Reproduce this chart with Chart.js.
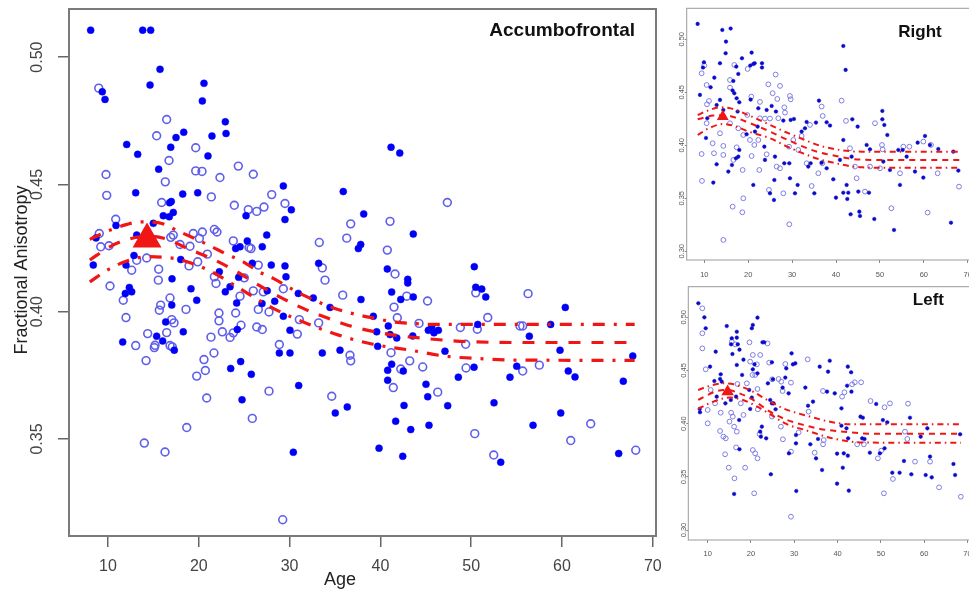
<!DOCTYPE html>
<html><head><meta charset="utf-8">
<script src="https://cdn.jsdelivr.net/npm/chart.js@4.4.1/dist/chart.umd.min.js"></script>
<style>
html,body{margin:0;padding:0;background:#fff;overflow:hidden;width:969px;height:590px;position:relative;}
.p{position:absolute;}
canvas{display:block;}
</style></head><body>
<div class="p" style="left:0;top:0;width:668px;height:590px"><canvas id="cMain" width="668" height="590"></canvas></div>
<div class="p" style="left:672px;top:0;width:310px;height:285px"><canvas id="cRight" width="310" height="285"></canvas></div>
<div class="p" style="left:672px;top:285px;width:310px;height:305px"><canvas id="cLeft" width="310" height="305"></canvas></div>
<script>
// ---------- tick labels ----------
const ageTicks = [10, 20, 30, 40, 50, 60, 70];
const faTicksMain = [0.35, 0.40, 0.45, 0.50];
const faTicksSmall = [0.30, 0.35, 0.40, 0.45, 0.50];
const panelTitles = ["Accumbofrontal", "Right", "Left"];
const axisTitles = ["Age", "Fractional Anisotropy"];

// ---------- Accumbofrontal (main) ----------
const mainFilled = [[8.09,0.5106],[13.82,0.5106],[14.70,0.5106],[15.73,0.4952],[14.63,0.4890],[20.57,0.4897],[20.39,0.4828],[9.37,0.4864],[9.67,0.4834],[12.06,0.4657],[13.27,0.4618],[22.92,0.4746],[23.00,0.4700],[18.34,0.4705],[17.49,0.4684],[16.91,0.4646],[21.45,0.4690],[21.01,0.4612],[15.58,0.4560],[13.05,0.4467],[18.23,0.4462],[19.88,0.4467],[29.31,0.4494],[30.19,0.4400],[29.49,0.4362],[16.09,0.4377],[16.75,0.4373],[17.19,0.4390],[16.79,0.4428],[16.97,0.4433],[14.99,0.4347],[10.88,0.4339],[8.68,0.4290],[13.16,0.4301],[25.20,0.4377],[25.34,0.4278],[27.48,0.4301],[26.99,0.4255],[24.06,0.4248],[24.54,0.4255],[12.86,0.4221],[11.98,0.4183],[8.38,0.4183],[18.01,0.4205],[17.05,0.4129],[22.26,0.4157],[24.39,0.4135],[25.89,0.4190],[27.98,0.4183],[29.49,0.4180],[29.60,0.4137],[33.20,0.4190],[19.14,0.4090],[23.44,0.4098],[22.92,0.4078],[11.91,0.4072],[12.35,0.4095],[12.61,0.4078],[27.54,0.4082],[30.96,0.4072],[32.61,0.4054],[41.17,0.4646],[42.13,0.4623],[35.91,0.4472],[38.16,0.4384],[43.62,0.4305],[37.57,0.4248],[37.83,0.4264],[40.76,0.4168],[43.01,0.4127],[43.01,0.4113],[50.34,0.4177],[50.50,0.4096],[51.16,0.4089],[51.60,0.4058],[37.86,0.4048],[41.24,0.4077],[43.62,0.4058],[42.24,0.4048],[60.36,0.4017],[39.22,0.3982],[40.87,0.3944],[39.59,0.3921],[41.06,0.3910],[41.80,0.3897],[43.56,0.3905],[45.28,0.3927],[45.65,0.3940],[45.90,0.3917],[46.38,0.3927],[50.72,0.3950],[56.40,0.3904],[58.75,0.3950],[39.70,0.3864],[47.11,0.3845],[59.78,0.3849],[35.55,0.3849],[67.79,0.3826],[41.24,0.3794],[40.80,0.3770],[42.52,0.3767],[50.31,0.3782],[55.01,0.3786],[60.69,0.3767],[61.43,0.3744],[48.58,0.3743],[54.27,0.3743],[40.80,0.3731],[45.02,0.3715],[45.21,0.3666],[35.03,0.3602],[36.35,0.3626],[42.60,0.3632],[47.41,0.3631],[52.51,0.3642],[66.75,0.3727],[41.68,0.3570],[43.34,0.3537],[45.35,0.3554],[56.81,0.3554],[59.86,0.3602],[39.85,0.3464],[42.46,0.3432],[53.25,0.3409],[66.24,0.3443],[34.45,0.4017],[17.02,0.4026],[19.77,0.4045],[24.17,0.4034],[16.35,0.3960],[15.36,0.3904],[18.29,0.3921],[11.62,0.3881],[16.02,0.3885],[17.30,0.3849],[24.24,0.3930],[23.51,0.3777],[24.61,0.3804],[25.78,0.3754],[24.76,0.3654],[31.00,0.3710],[30.41,0.3448],[26.96,0.4032],[28.36,0.4041],[29.31,0.3982],[30.04,0.3927],[28.87,0.3838],[30.04,0.3838],[33.60,0.3838]];
const mainOpen = [[8.98,0.4878],[16.46,0.4755],[15.36,0.4691],[19.66,0.4644],[16.72,0.4594],[19.66,0.4553],[20.35,0.4551],[9.78,0.4539],[22.33,0.4527],[24.35,0.4572],[26.00,0.4540],[16.31,0.4510],[9.86,0.4457],[21.38,0.4451],[15.91,0.4429],[23.91,0.4418],[25.45,0.4401],[26.38,0.4394],[27.18,0.4411],[28.03,0.4460],[29.49,0.4425],[10.85,0.4363],[9.04,0.4307],[9.20,0.4255],[10.11,0.4259],[19.39,0.4307],[20.39,0.4313],[20.06,0.4288],[21.71,0.4323],[22.00,0.4313],[17.19,0.4301],[16.91,0.4292],[17.93,0.4264],[19.03,0.4257],[23.80,0.4278],[25.53,0.4252],[25.75,0.4248],[33.27,0.4272],[14.26,0.4211],[13.16,0.4202],[20.94,0.4226],[19.88,0.4196],[18.92,0.4180],[26.55,0.4183],[12.61,0.4163],[15.58,0.4167],[15.54,0.4124],[21.71,0.4137],[21.89,0.4111],[25.01,0.4133],[33.60,0.4172],[33.90,0.4124],[10.22,0.4101],[26.00,0.4082],[27.10,0.4078],[29.31,0.4090],[24.54,0.4061],[16.83,0.4054],[47.37,0.4429],[36.73,0.4345],[41.06,0.4355],[36.29,0.4289],[40.76,0.4242],[41.61,0.4148],[50.50,0.4074],[56.26,0.4071],[35.85,0.4065],[42.90,0.4061],[45.19,0.4042],[41.50,0.4018],[41.86,0.3976],[44.25,0.3954],[48.80,0.3938],[49.39,0.3872],[51.82,0.3977],[50.67,0.3931],[55.37,0.3944],[55.67,0.3944],[41.17,0.3839],[36.65,0.3829],[36.73,0.3807],[43.23,0.3807],[42.24,0.3775],[44.66,0.3783],[49.43,0.3779],[55.67,0.3767],[57.50,0.3790],[41.42,0.3702],[46.31,0.3684],[34.64,0.3668],[50.39,0.3521],[63.16,0.3560],[60.96,0.3494],[52.48,0.3437],[68.12,0.3456],[11.68,0.4045],[11.98,0.3977],[15.80,0.4026],[15.65,0.4006],[18.59,0.4009],[22.22,0.3995],[22.22,0.3964],[24.06,0.3995],[17.02,0.3969],[17.27,0.3956],[14.37,0.3914],[16.46,0.3918],[13.05,0.3867],[15.18,0.3868],[15.10,0.3859],[16.83,0.3867],[17.08,0.3862],[14.19,0.3808],[21.34,0.3900],[22.59,0.3921],[23.44,0.3899],[23.80,0.3917],[24.65,0.3947],[21.67,0.3838],[20.57,0.3812],[20.72,0.3769],[19.77,0.3747],[20.87,0.3661],[27.73,0.3688],[25.89,0.3581],[18.67,0.3545],[14.00,0.3484],[16.28,0.3449],[26.38,0.3940],[26.99,0.3930],[26.55,0.4009],[27.73,0.3999],[30.85,0.3912],[31.07,0.3969],[28.87,0.3871],[33.20,0.3956],[29.24,0.3183]];
const mainFit = [[8,0.4203],[10.2,0.4255],[12,0.4282],[14.3,0.4297],[16.5,0.4285],[18.7,0.4249],[21.4,0.4209],[24.2,0.4157],[26.6,0.4104],[28.9,0.4058],[31.5,0.4013],[34.1,0.3976],[36.8,0.3943],[39.4,0.3921],[42.2,0.3905],[44.9,0.3895],[47.5,0.3887],[50,0.3882],[55,0.3879],[68,0.3879]];
const mainUpper = [[8,0.4284],[10.2,0.4320],[12,0.4342],[13.5,0.4353],[15.5,0.4350],[17.9,0.4314],[21.05,0.4262],[23.1,0.4225],[24.9,0.4196],[26.6,0.4157],[28.2,0.4131],[30.0,0.4094],[31.7,0.4062],[33.7,0.4030],[35.6,0.4006],[37.6,0.3987],[39.4,0.3974],[41.4,0.3960],[43.5,0.3954],[45.8,0.3950],[50,0.3950],[68,0.3950]];
const mainLower = [[8,0.4117],[9.9,0.4163],[12,0.4198],[14.3,0.4216],[17.9,0.4205],[21.4,0.4157],[24.5,0.4091],[28.2,0.4013],[31.9,0.3954],[35.4,0.3908],[39.2,0.3872],[43.3,0.3849],[47,0.3826],[51.3,0.3815],[55,0.3810],[68,0.3809]];
const mainPeak = [[14.3,0.4285]];

// ---------- Right ----------
const rightFilled = [[8.48,0.5145],[14.10,0.5088],[16.00,0.5101],[14.94,0.4978],[14.86,0.4868],[13.57,0.4774],[9.92,0.4783],[9.70,0.4733],[9.01,0.4475],[12.28,0.4638],[11.44,0.4547],[20.78,0.4874],[18.58,0.4821],[17.29,0.4742],[17.74,0.4673],[16.61,0.4607],[16.45,0.4516],[16.83,0.4491],[17.37,0.4443],[20.48,0.4752],[21.16,0.4767],[21.47,0.4774],[23.14,0.4774],[23.14,0.4733],[20.55,0.4431],[17.97,0.4406],[17.59,0.4318],[22.30,0.4349],[24.20,0.4333],[25.34,0.4371],[26.32,0.4318],[28.00,0.4233],[29.67,0.4239],[30.42,0.4248],[33.31,0.4220],[35.44,0.4214],[36.12,0.4421],[37.87,0.4217],[38.63,0.4186],[41.66,0.4937],[42.19,0.4711],[43.71,0.4245],[44.93,0.4176],[50.55,0.4324],[50.55,0.4245],[51.00,0.4192],[51.69,0.4097],[54.19,0.3956],[55.18,0.3956],[58.60,0.4025],[60.27,0.4088],[61.40,0.4003],[66.72,0.3940],[67.86,0.3761],[59.89,0.3695],[66.19,0.3270],[53.21,0.3201],[48.72,0.3305],[45.31,0.3374],[45.46,0.3333],[43.33,0.3349],[42.57,0.3494],[41.66,0.3553],[42.80,0.3553],[39.99,0.3506],[45.08,0.3563],[47.51,0.3553],[42.42,0.3626],[39.38,0.3679],[35.06,0.3547],[36.73,0.3836],[33.69,0.3799],[34.22,0.3830],[37.87,0.3783],[15.47,0.3752],[12.05,0.3648],[12.81,0.3821],[10.38,0.4069],[10.68,0.4255],[16.30,0.3814],[17.21,0.3877],[17.74,0.3893],[17.97,0.3956],[19.64,0.4104],[21.16,0.3626],[21.54,0.4129],[22.15,0.4176],[23.67,0.3987],[23.82,0.3862],[26.10,0.3893],[25.95,0.3673],[24.96,0.3547],[25.87,0.3484],[28.22,0.3830],[29.51,0.3689],[30.65,0.3547],[31.26,0.3626],[29.36,0.3830],[32.17,0.4129],[32.93,0.4160],[41.66,0.4050],[43.56,0.3893],[40.90,0.3862],[46.98,0.4003],[47.74,0.3962],[50.78,0.3846],[56.09,0.3893],[52.29,0.3767],[57.99,0.3752],[54.57,0.3626],[63.30,0.3965],[13.57,0.4428],[12.81,0.4380],[14.33,0.4333]];
const rightOpen = [[9.39,0.4679],[10.00,0.4752],[10.53,0.4569],[11.06,0.4418],[10.61,0.4387],[15.85,0.4544],[16.83,0.4758],[15.85,0.4616],[19.87,0.4720],[20.71,0.4459],[19.79,0.4286],[22.68,0.4409],[24.58,0.4575],[25.57,0.4491],[26.25,0.4667],[27.24,0.4560],[26.63,0.4437],[28.22,0.4358],[29.51,0.4465],[29.67,0.4434],[28.38,0.4308],[22.68,0.4255],[23.82,0.4252],[24.96,0.4252],[26.86,0.4255],[34.07,0.4192],[36.73,0.4365],[36.96,0.4277],[41.28,0.4421],[42.27,0.4230],[48.88,0.4208],[50.47,0.4003],[50.62,0.3962],[56.70,0.3987],[55.33,0.3987],[61.63,0.4003],[68.01,0.3610],[63.15,0.3736],[60.87,0.3365],[52.60,0.3406],[44.70,0.3689],[46.60,0.3563],[34.45,0.3616],[35.97,0.3736],[33.31,0.3830],[36.88,0.3830],[14.33,0.3107],[18.66,0.3368],[16.45,0.3421],[18.88,0.3500],[9.47,0.3664],[9.39,0.3918],[12.20,0.3925],[11.90,0.4019],[10.53,0.4208],[13.57,0.4113],[14.33,0.3994],[14.33,0.3909],[16.61,0.3862],[18.73,0.3767],[17.37,0.3981],[18.88,0.4097],[20.78,0.3899],[21.39,0.4003],[22.53,0.3767],[24.20,0.3915],[26.48,0.3799],[27.24,0.3783],[28.00,0.3547],[24.73,0.3579],[29.36,0.3255],[31.41,0.3956],[29.29,0.3987],[15.85,0.4208],[17.74,0.4160],[20.40,0.4050],[22.30,0.4050],[30.27,0.4050],[32.17,0.4088],[43.18,0.3972],[44.32,0.3799],[47.74,0.3799],[50.02,0.3783],[59.89,0.4035],[54.57,0.3736]];
const rightFit = [[8.5,0.4245],[10,0.4262],[12,0.4280],[14.3,0.4286],[17,0.4262],[20,0.4215],[25,0.4129],[28.5,0.4060],[32.5,0.3987],[36,0.3935],[40,0.3899],[43,0.3875],[46,0.3864],[50,0.3862],[68.3,0.3862]];
const rightUpper = [[8.5,0.4286],[11,0.4330],[13.6,0.4358],[16,0.4348],[20,0.4285],[25,0.4192],[28.5,0.4125],[32.5,0.4057],[36,0.4000],[40,0.3962],[43,0.3945],[46,0.3940],[68.3,0.3940]];
const rightLower = [[8.5,0.4097],[11,0.4160],[14.3,0.4200],[17,0.4180],[20,0.4130],[25,0.4066],[28.5,0.3995],[32.5,0.3924],[36,0.3870],[40,0.3830],[43,0.3805],[46,0.3792],[50,0.3789],[68.3,0.3789]];
const rightPeak = [[14.2,0.4270]];

// ---------- Left ----------
const leftFilled = [[7.84,0.5132],[9.23,0.5000],[9.54,0.4897],[10.54,0.4536],[11.85,0.4677],[13.01,0.4464],[12.86,0.4420],[14.40,0.4918],[15.56,0.4803],[15.41,0.4746],[16.72,0.4865],[16.72,0.4809],[16.95,0.4746],[15.71,0.4655],[17.34,0.4696],[16.72,0.4552],[18.26,0.4602],[17.95,0.4458],[20.19,0.4897],[20.42,0.4928],[21.50,0.4997],[21.50,0.4473],[22.66,0.4765],[23.05,0.4765],[20.81,0.4558],[20.42,0.4511],[24.83,0.4577],[25.06,0.4417],[23.90,0.4379],[24.44,0.4223],[25.21,0.4191],[25.68,0.4135],[27.30,0.4339],[27.92,0.4433],[28.15,0.4520],[28.69,0.4285],[29.38,0.4661],[29.69,0.4558],[30.23,0.4567],[23.51,0.3862],[22.12,0.3925],[22.51,0.3972],[24.59,0.3524],[30.39,0.3893],[30.39,0.3815],[30.46,0.3367],[28.76,0.3721],[32.55,0.4339],[33.17,0.4169],[34.32,0.4207],[33.71,0.3806],[35.02,0.3674],[35.48,0.3856],[36.41,0.3564],[35.87,0.4536],[38.19,0.4592],[37.80,0.4489],[37.57,0.4301],[39.34,0.4285],[39.88,0.3436],[39.88,0.3718],[40.89,0.4144],[40.89,0.3981],[41.20,0.3586],[41.43,0.3721],[42.36,0.3699],[42.05,0.3956],[42.20,0.4357],[42.36,0.4536],[43.13,0.4483],[43.20,0.4301],[42.59,0.3370],[42.43,0.3862],[45.29,0.4066],[45.83,0.4056],[45.68,0.3862],[46.22,0.3856],[47.45,0.3727],[48.92,0.4185],[50.46,0.4034],[51.47,0.4013],[52.63,0.3539],[54.32,0.3539],[55.33,0.3649],[57.03,0.3524],[60.35,0.3517],[61.35,0.3690],[60.73,0.3956],[59.19,0.3878],[56.72,0.4056],[49.77,0.3721],[50.85,0.3768],[66.76,0.3621],[67.14,0.3517],[68.30,0.3900],[61.74,0.3495],[8.15,0.4138],[8.22,0.4107],[11.54,0.4401],[13.24,0.4395],[12.08,0.4254],[14.09,0.4191],[15.33,0.4223],[16.56,0.4254],[17.26,0.4034],[17.34,0.3759],[16.10,0.3339],[19.58,0.4317],[20.19,0.4245],[19.81,0.4138],[22.28,0.3878],[24.83,0.4191]];
const leftOpen = [[8.76,0.5085],[8.76,0.4850],[8.76,0.4708],[9.54,0.4511],[10.00,0.4129],[10.00,0.4003],[10.69,0.4317],[11.70,0.4191],[12.86,0.3931],[13.01,0.4103],[13.63,0.3878],[14.02,0.3712],[14.17,0.3862],[14.86,0.3586],[15.02,0.4019],[15.41,0.4103],[15.79,0.4066],[16.10,0.3972],[16.18,0.3486],[16.56,0.3777],[16.72,0.3925],[15.56,0.4771],[16.33,0.4746],[16.87,0.4373],[17.64,0.4191],[18.26,0.4082],[18.65,0.3586],[19.03,0.4379],[19.65,0.4765],[19.81,0.4583],[20.35,0.4458],[20.42,0.4646],[20.97,0.4458],[21.35,0.4558],[21.50,0.4326],[21.58,0.4135],[20.42,0.3752],[20.97,0.3721],[21.50,0.3674],[20.73,0.3345],[21.97,0.3903],[22.12,0.4646],[23.82,0.4755],[24.21,0.4574],[24.90,0.4417],[24.83,0.4066],[26.37,0.4420],[26.99,0.4395],[27.30,0.4307],[26.91,0.3972],[27.37,0.3853],[27.92,0.4561],[29.23,0.4386],[29.23,0.3737],[29.23,0.3125],[31.00,0.3918],[33.09,0.4605],[33.32,0.4113],[34.71,0.3727],[36.64,0.4307],[36.80,0.3846],[36.64,0.3806],[41.04,0.4254],[41.58,0.4295],[43.36,0.4370],[43.98,0.4389],[45.44,0.4389],[44.52,0.3806],[46.06,0.3806],[47.61,0.4213],[49.31,0.3674],[50.08,0.3746],[50.69,0.3345],[50.85,0.4154],[52.09,0.4191],[52.78,0.3480],[56.26,0.4188],[55.56,0.3925],[56.10,0.3856],[57.88,0.3643],[61.35,0.3643],[63.44,0.3401],[68.46,0.3313]];
const leftFit = [[7.8,0.4223],[10,0.4270],[12,0.4305],[14.6,0.4317],[17,0.4290],[20,0.4235],[24.4,0.4113],[28,0.4040],[32.2,0.3987],[36,0.3950],[41.4,0.3925],[46,0.3908],[50,0.3905],[68.5,0.3905]];
const leftUpper = [[7.8,0.4317],[10,0.4350],[13.6,0.4379],[16,0.4370],[20,0.4310],[24.4,0.4207],[28,0.4135],[33.7,0.4066],[38,0.4020],[43,0.3994],[68.5,0.3994]];
const leftLower = [[7.8,0.4138],[10,0.4185],[15,0.4245],[18,0.4225],[21,0.4170],[24.4,0.4090],[28,0.4000],[33.7,0.3925],[38,0.3870],[43,0.3831],[47,0.3822],[68.5,0.3821]];
const leftPeak = [[14.6,0.4300]];

// ---------- drawing ----------
const FONT = "'Liberation Sans', Arial, Helvetica, sans-serif";
const RED = 'rgb(240,22,22)';
const pts = a => a.map(([x, y]) => ({x, y}));

const decor = {
  id: 'decor',
  afterDatasetsDraw(chart, args, o) {
    const a = chart.chartArea, ctx = chart.ctx;
    ctx.save();
    ctx.strokeStyle = o.frameColor; ctx.lineWidth = o.frameWidth;
    ctx.strokeRect(a.left, a.top, a.right - a.left, a.bottom - a.top);
    ctx.restore();
  },
  afterDraw(chart, args, o) {
    const ctx = chart.ctx;
    (o.texts || []).forEach(t => {
      ctx.save();
      ctx.font = t.font; ctx.fillStyle = t.color || '#111';
      ctx.textAlign = t.align || 'left'; ctx.textBaseline = 'alphabetic';
      ctx.translate(t.x, t.y);
      if (t.rot) ctx.rotate(t.rot);
      ctx.fillText(t.text, 0, 0);
      ctx.restore();
    });
  }
};

function zeroPad(s) { s.paddingTop = 0; s.paddingBottom = 0; s.paddingLeft = 0; s.paddingRight = 0; }

function build(id, o) {
  const lineBase = {showLine: true, borderColor: RED, borderWidth: o.lw, pointRadius: 0, pointHitRadius: 0,
                    cubicInterpolationMode: 'monotone', fill: false, borderCapStyle: 'butt'};
  const datasets = [
    {data: pts(o.peak), pointStyle: 'triangle', pointRadius: o.triR, backgroundColor: RED, borderColor: RED, borderWidth: 0},
    Object.assign({data: pts(o.upper), borderDash: o.dotDash}, lineBase),
    Object.assign({data: pts(o.fit), borderDash: o.dash}, lineBase),
    Object.assign({data: pts(o.lower), borderDash: o.dotDash}, lineBase),
    {data: pts(o.filled), pointStyle: 'circle', pointRadius: o.fr, backgroundColor: o.fillColor, borderColor: o.fillColor, borderWidth: 0.5},
    {data: pts(o.open), pointStyle: 'circle', pointRadius: o.or, backgroundColor: 'rgba(255,255,255,0)', borderColor: o.openColor, borderWidth: o.ow}
  ];
  return new Chart(document.getElementById(id), {
    type: 'scatter',
    data: {datasets},
    plugins: [decor],
    options: {
      responsive: false, animation: false, devicePixelRatio: 1,
      layout: {autoPadding: false, padding: {top: o.padTop, right: o.padRight, left: 0, bottom: 0}},
      plugins: {legend: {display: false}, tooltip: {enabled: false}, decor: o.decor},
      scales: {
        x: {
          type: 'linear', position: 'bottom', min: o.xmin, max: o.xmax,
          afterBuildTicks: s => { s.ticks = ageTicks.map(v => ({value: v})); },
          afterFit: s => { s.height = o.xh; zeroPad(s); },
          grid: {display: true, drawOnChartArea: false, drawTicks: true, tickLength: o.tl, color: o.tickColor, lineWidth: o.tw},
          border: {display: false},
          ticks: {autoSkip: false, maxRotation: 0, minRotation: 0, padding: o.xpad, color: o.labColor,
                  font: {family: FONT, size: o.tfs}, callback: v => String(v)}
        },
        y: {
          type: 'linear', position: 'left', min: o.ymin, max: o.ymax,
          afterBuildTicks: s => { s.ticks = o.yticks.map(v => ({value: v})); },
          afterFit: s => { s.width = o.yw; zeroPad(s); },
          grid: {display: true, drawOnChartArea: false, drawTicks: true, tickLength: o.ytl, color: o.tickColor, lineWidth: o.tw},
          border: {display: false},
          ticks: {autoSkip: false, minRotation: 90, maxRotation: 90, crossAlign: 'center', padding: o.ypad, color: o.labColor,
                  font: {family: FONT, size: o.tfs}, callback: v => v.toFixed(2)}
        }
      }
    }
  });
}

build('cMain', {
  filled: mainFilled, open: mainOpen, fit: mainFit, upper: mainUpper, lower: mainLower, peak: mainPeak,
  xmin: 5.705, xmax: 70.35, ymin: 0.3119, ymax: 0.5189, yticks: faTicksMain,
  padTop: 9, padRight: 12, xh: 54, yw: 69, tl: 11, ytl: 11, tw: 1.5, xpad: 10, ypad: 5, tfs: 16,
  tickColor: '#666', labColor: '#444', lw: 3.2, dash: [12, 11], dotDash: [12, 9, 3, 9], triR: 16.7,
  fr: 3.5, or: 3.9, ow: 1.6, fillColor: 'rgb(0,0,250)', openColor: 'rgb(95,95,235)',
  decor: {frameColor: '#7a7a7a', frameWidth: 2, texts: [
    {text: panelTitles[0], x: 635, y: 36, align: 'right', font: 'bold 19px ' + FONT, color: '#111'},
    {text: axisTitles[0], x: 340, y: 585, align: 'center', font: '18px ' + FONT, color: '#222'},
    {text: axisTitles[1], x: 27, y: 270, align: 'center', font: '18px ' + FONT, color: '#222', rot: -Math.PI / 2}
  ]}
});

build('cRight', {
  filled: rightFilled, open: rightOpen, fit: rightFit, upper: rightUpper, lower: rightLower, peak: rightPeak,
  xmin: 5.99, xmax: 70.52, ymin: 0.2918, ymax: 0.5292, yticks: faTicksSmall,
  padTop: 8.3, padRight: 12, xh: 25, yw: 14.7, tl: 3, ytl: 2, tw: 1, xpad: 7, ypad: -5, tfs: 7.5,
  tickColor: '#888', labColor: '#555', lw: 2, dash: [6, 5], dotDash: [6, 4, 1.5, 4], triR: 6.8,
  fr: 1.8, or: 2.4, ow: 1, fillColor: 'rgb(10,10,205)', openColor: 'rgb(125,125,228)',
  decor: {frameColor: '#9a9a9a', frameWidth: 1, texts: [
    {text: panelTitles[1], x: 269.7, y: 36.7, align: 'right', font: 'bold 17px ' + FONT, color: '#111'}
  ]}
});

build('cLeft', {
  filled: leftFilled, open: leftOpen, fit: leftFit, upper: leftUpper, lower: leftLower, peak: leftPeak,
  xmin: 5.52, xmax: 70.58, ymin: 0.2906, ymax: 0.5288, yticks: faTicksSmall,
  padTop: 1.7, padRight: 12, xh: 50, yw: 16.3, tl: 3, ytl: 2, tw: 1, xpad: 6, ypad: -5, tfs: 7.5,
  tickColor: '#888', labColor: '#555', lw: 2, dash: [6, 5], dotDash: [6, 4, 1.5, 4], triR: 7.2,
  fr: 1.8, or: 2.4, ow: 1, fillColor: 'rgb(10,10,205)', openColor: 'rgb(125,125,228)',
  decor: {frameColor: '#9a9a9a', frameWidth: 1, texts: [
    {text: panelTitles[2], x: 272, y: 20, align: 'right', font: 'bold 17px ' + FONT, color: '#111'}
  ]}
});
</script>
</body></html>
